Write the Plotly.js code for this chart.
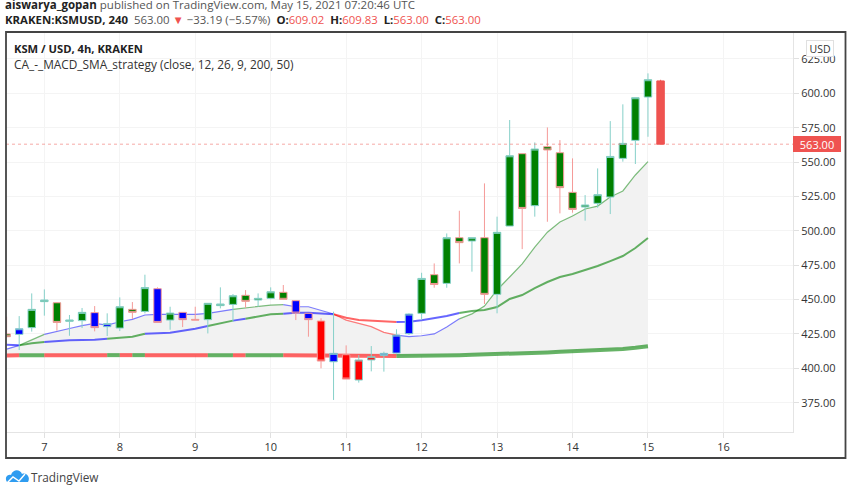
<!DOCTYPE html>
<html><head><meta charset="utf-8">
<script src="https://cdn.plot.ly/plotly-3.0.1.min.js"></script>
<style>html,body{margin:0;padding:0;background:#fff;overflow:hidden}#c{width:852px;height:485px}</style>
</head><body><div id="c"></div>
<script>
// 4h candles, in day-of-month
const times = [6.5,6.667,6.833,7,7.167,7.333,7.5,7.667,7.833,8,8.167,8.333,8.5,8.667,8.833,9,9.167,9.333,9.5,9.667,9.833,10,10.167,10.333,10.5,10.667,10.833,11,11.167,11.333,11.5,11.667,11.833,12,12.167,12.333,12.5,12.667,12.833,13,13.167,13.333,13.5,13.667,13.833,14,14.167,14.333,14.5,14.667,14.833,15,15.167];
const opens = [425,424.7,429.6,448.5,447.7,434.2,434.7,440.5,430.3,429.3,442.9,441.4,457.9,435.1,440.7,435.6,435.4,445.6,446.5,453.1,449.7,450.9,455.3,449.2,440,434.4,404.8,409.9,391.5,406.1,409.4,411.1,425.2,440,468.1,461.8,495,492.6,495,453.8,503.5,556.1,518.3,561.2,556.8,528,517.3,520,524.6,552.7,565.8,597.3,609.02];
const highs = [437.6,438,454.5,457.4,448,438.8,443.9,445.3,440,451.6,448.2,468.1,458.9,444.8,440.7,444.8,447.3,458.9,454,456.9,454.5,458.9,460.6,449.2,440,436.4,441.2,416.7,409.7,416.2,412.1,428.4,440,469.5,476.3,498.1,514.6,495,534.5,510.3,580.6,556.1,564.3,575.2,566,552.7,526,545.4,579.8,592,596.8,614.5,609.83];
const lows = [422.5,413.3,426.7,438.3,427.4,423.7,429.3,426.9,423.5,427.1,435.9,440,433.4,428.1,430,435.1,425.4,443.6,433.9,444.1,444.8,450.2,450.2,435.1,423,400,377,392.2,389.6,397.8,397.6,410.9,424.2,435.1,458.6,458.6,476.3,470.3,446.8,440,503.5,486.7,510.3,506.6,512.7,513.2,507.4,516.8,512.2,550.3,548.6,568.4,563];
const closes = [423,428.8,442.9,449.7,433.4,435.1,440.7,429.6,432.5,444.8,440.7,458.7,433.4,440.2,435.4,435.1,447.3,446.8,452.8,448.7,450.9,455.7,450.2,440.2,435.4,405.3,410.9,392.2,406.1,408.5,410.9,424.2,439.5,465.4,461,495,491.4,495,453.8,498.9,554.6,516.3,559.5,558.8,531.4,515.6,518.8,526.3,554.1,563.6,596.8,609.9,563];
const bodyFills = ("gbggggg"+"bb"+"ggg"+"b"+"g"+"b"+"gggggggg"+"bb"+"r"+"b"+"rrr"+"bbb"+"ggggggggggggggggggg"+"c").split("");

// moving averages per candle (last candle has none)
const fastLine = [414,416.7,420.6,424.7,427,429,431,432.7,431.5,433.9,435.6,438.8,439.3,439.3,438.8,439.3,440,441.7,442.9,444.1,445.3,446,446.3,444.8,444.8,441.9,439.5,435.1,432.7,430.3,426.2,424.2,423,423.7,425,430,436,439.6,445.3,457,466.4,476,488.2,499,506.4,510.8,515.9,518,524.6,529,540.6,550.3];
const slowLine = [417.2,416.7,418.2,419.1,419.9,420.4,420.6,420.8,421.6,422.3,423,425.2,425.4,425.9,427.4,428.8,430.8,432.7,434.7,436.1,437.6,439.3,439.7,440.5,440.5,440,439.3,436.8,435.1,434.7,433.9,433.7,433.9,434.9,436.2,438,440.2,441.7,442.4,444.6,450.4,453.3,458.4,462.8,466.4,468.6,471.5,474.4,478,481.7,487.5,494.8];
const longLine = [409.4,409.5,409.5,409.5,409.5,409.6,409.6,409.6,409.6,409.6,409.6,409.6,409.6,409.6,409.6,409.6,409.6,409.5,409.5,409.5,409.5,409.5,409.5,409.5,409.4,409.4,409.4,409.3,409.2,409.2,409.1,409,409,409.1,409.2,409.4,409.6,409.8,410,410.3,410.6,411,411.3,411.6,412,412.3,412.7,413,413.4,414,414.9,416];
// colour of the segment that starts at each candle
const fastSeg = ("b"+"gg"+"bbbbbbbbbbbbbbb"+"gggg"+"bbbb"+"rrrrr"+"bbbbb"+"ggggggggggggggg").split("");
const slowSeg = ("b"+"gg"+"bbbbb"+"ggg"+"bbbbb"+"gg"+"b"+"ggg"+"bbbb"+"rrrrr"+"bbbbb"+"ggggggggggggggg").split("");
const longSeg = ("r"+"gg"+"rrrrr"+"g"+"r"+"g"+"rrrrr"+"gg"+"r"+"ggg"+"rrrrrrrrr"+"gggggggggggggggggggg").split("");

const yTicks = [375,400,425,450,475,500,525,550,575,600,625];
const xTicks = [7,8,9,10,11,12,13,14,15,16];
const lastClose = 563;
const xRange = [6.492,16.922], yRange = [353.7,644.6];

const FILL = {g:"#008000", b:"#0000ff", r:"#ff0000", c:"#ef5350"};
const UP = "#86d0c9", DOWN = "#f59a98";
const SEG3 = {b:"rgba(0,0,255,A)", g:"rgba(0,128,0,A)", r:"rgba(255,0,0,A)"};
const TXT = "#333333", FONT = '"Open Sans","Noto Sans",sans-serif';
const L=6,R=793,T=32,B=432;
const fx = p => (p-L)/(R-L), fy = p => (B-p)/(B-T);

const traces = [];
const xs = times.slice(0, fastLine.length);
traces.push({type:"scatter",mode:"lines",x:xs,y:fastLine,line:{width:0,color:"rgba(0,0,0,0)"},hoverinfo:"skip"});
traces.push({type:"scatter",mode:"lines",x:xs,y:longLine,fill:"tonexty",fillcolor:"#f2f2f2",line:{width:0,color:"rgba(0,0,0,0)"},hoverinfo:"skip"});

function segTraces(vals, segs, width, alpha){
  let i=0;
  while(i<vals.length-1){
    let j=i; while(j<vals.length-1 && segs[j]===segs[i]) j++;
    traces.push({type:"scatter",mode:"lines",x:xs.slice(i,j+1),y:vals.slice(i,j+1),
      line:{width:width,color:SEG3[segs[i]].replace("A",alpha)},hoverinfo:"skip"});
    i=j;
  }
}
segTraces(longLine,longSeg,4,0.6);
segTraces(slowLine,slowSeg,2,0.6);
segTraces(fastLine,fastSeg,1.2,0.5);

// candles, one trace for each combination of body fill and border; drawn on an overlay so they sit above the lines
["g","b","r","c"].forEach(f=>{
  const idx = times.map((_,i)=>i).filter(i=>bodyFills[i]===f);
  const edge = f==="c" ? "#ef5350" : null;
  traces.push({type:"candlestick",xaxis:"x2",yaxis:"y2",
    x:idx.map(i=>times[i]),open:idx.map(i=>opens[i]),high:idx.map(i=>highs[i]),low:idx.map(i=>lows[i]),close:idx.map(i=>closes[i]),
    increasing:{fillcolor:FILL[f],line:{color:edge||UP,width:1}},
    decreasing:{fillcolor:FILL[f],line:{color:edge||DOWN,width:1}},
    whiskerwidth:0,hoverinfo:"skip"});
});

function note(text,px,py,opt){
  return Object.assign({text:text,xref:"paper",yref:"paper",x:fx(px),y:fy(py),xanchor:"left",yanchor:"middle",showarrow:false,
    font:{family:FONT,size:11,color:TXT},borderpad:0,borderwidth:0},opt||{});
}
const RED="#ef5350";
const redS=s=>`<span style="color:${RED}">${s}</span>`;
const annotations = [
  note("<b>aiswarya_gopan</b> <span style='color:#555'>published on TradingView.com, May 15, 2021 07:20:46 UTC</span>",5,4.5,{font:{family:FONT,size:11.5,color:"#222"}}),
  note("<b>KRAKEN:KSMUSD, 240</b>  <span style='color:#555'>563.00</span> "+redS("▼")+" <span style='color:#555'>−33.19 (−5.57%)</span>  <b>O:</b>"+redS("609.02")+"  <b>H:</b>"+redS("609.83")+"  <b>L:</b>"+redS("563.00")+"  <b>C:</b>"+redS("563.00"),5,19.5,{font:{family:FONT,size:11.4,color:"#222"}}),
  note("<b>KSM / USD, 4h, KRAKEN</b>",14,48,{font:{family:FONT,size:11.2,color:"#222"}}),
  note("CA_-_MACD_SMA_strategy (close, 12, 26, 9, 200, 50)",14,64,{font:{family:FONT,size:11.85,color:"#333"}}),
  note("USD",806,48,{width:26,height:15,align:"center",bgcolor:"#ffffff",bordercolor:"#e0e0e0",borderwidth:1,font:{family:FONT,size:10.5,color:"#333"}}),
  {text:lastClose.toFixed(2),xref:"paper",yref:"y",x:fx(793),y:lastClose,xanchor:"left",yanchor:"middle",showarrow:false,width:48,height:16,align:"center",
    bgcolor:RED,borderpad:0,borderwidth:0,font:{family:FONT,size:11,color:"#fff"}},
  note("TradingView",31,476.5,{font:{family:FONT,size:11.8,color:"#444"}})
];
const P=(x,y)=>fx(x).toFixed(5)+","+fy(y).toFixed(5);
const shapes = [
  {type:"line",xref:"paper",yref:"y",x0:0,x1:1,y0:lastClose,y1:lastClose,line:{color:"rgba(239,83,80,0.5)",width:1,dash:"dot"}},
  {type:"rect",xref:"paper",yref:"paper",x0:fx(6),x1:fx(845.5),y0:fy(458),y1:fy(32),line:{color:"#444",width:1.8},layer:"above"},
  {type:"path",xref:"paper",yref:"paper",fillcolor:"#2f9cf0",line:{width:0},
   path:`M ${P(7,482)} C ${P(4,477)} ${P(8,474)} ${P(11,475)} C ${P(13,469)} ${P(20,469)} ${P(22,474)} C ${P(26,472)} ${P(31,477)} ${P(28,482)} Z`},
  {type:"path",xref:"paper",yref:"paper",line:{width:1.4,color:"#fff"},
   path:`M ${P(7,483)} L ${P(13,477)} L ${P(19,481)} L ${P(25,474)}`}
];

Plotly.newPlot("c",traces,{
  width:852,height:485,autosize:false,showlegend:false,
  margin:{l:L,r:852-R,t:T,b:485-B,pad:0},
  paper_bgcolor:"#fff",plot_bgcolor:"#fff",
  font:{family:FONT,size:11,color:TXT},
  boxgap:0.15,boxmode:"overlay",
  xaxis:{range:xRange,tickvals:xTicks,ticktext:xTicks.map(String),showgrid:true,gridcolor:"#f4f4f4",gridwidth:1,
    zeroline:false,showline:true,linecolor:"#e4e4e4",linewidth:1,ticks:"outside",ticklen:5,tickcolor:"#e0e0e0",
    tickfont:{family:FONT,size:11,color:TXT},rangeslider:{visible:false},fixedrange:true},
  yaxis:{side:"right",range:yRange,tickvals:yTicks,ticktext:yTicks.map(v=>v.toFixed(2)),showgrid:true,gridcolor:"#f4f4f4",gridwidth:1,
    zeroline:false,showline:true,linecolor:"#e4e4e4",linewidth:1,ticks:"outside",ticklen:5,tickcolor:"#e0e0e0",
    tickfont:{family:FONT,size:11,color:TXT},fixedrange:true},
  xaxis2:{overlaying:"x",range:xRange,visible:false,rangeslider:{visible:false},fixedrange:true},
  yaxis2:{overlaying:"y",side:"right",range:yRange,visible:false,fixedrange:true},
  annotations:annotations,shapes:shapes
},{displayModeBar:false,staticPlot:true});
</script></body></html>
